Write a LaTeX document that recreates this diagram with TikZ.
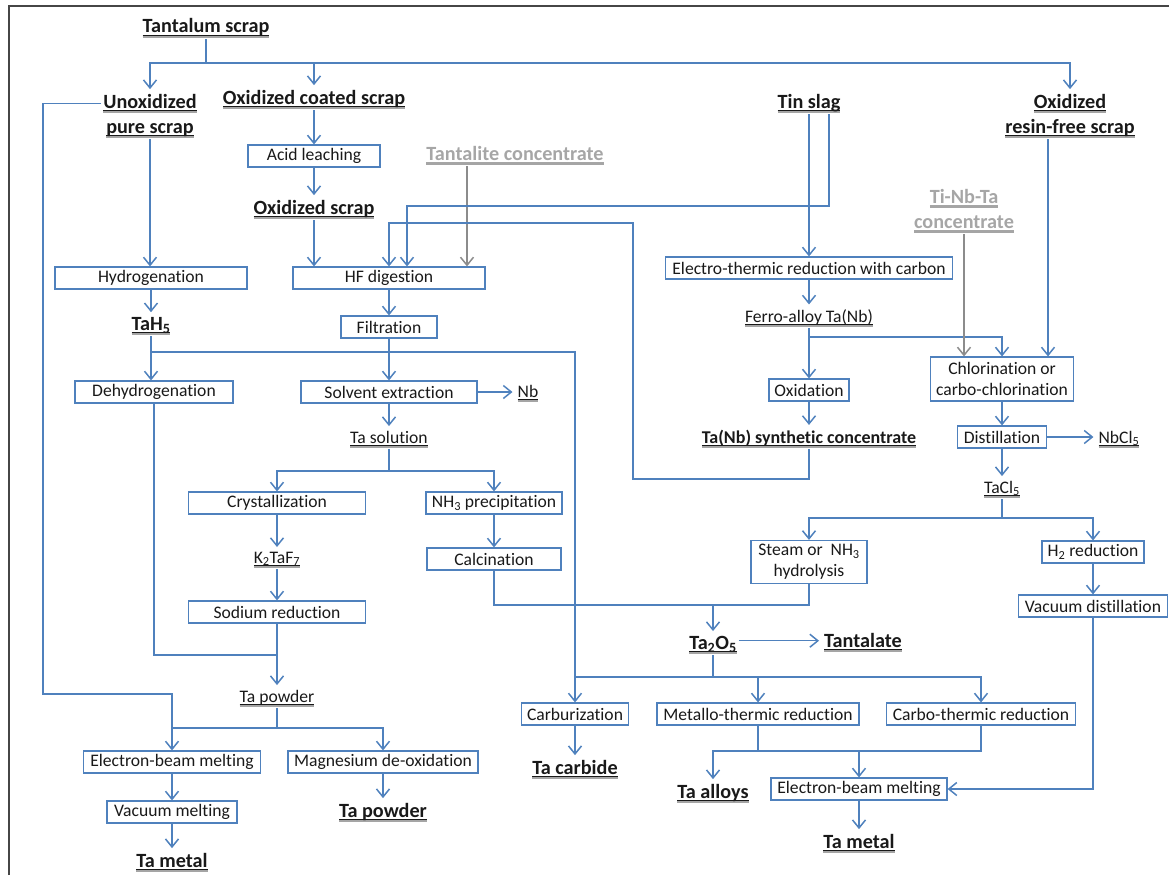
\documentclass[tikz,border=0pt]{standalone}
\usepackage{fontspec}
\setmainfont{Carlito}[Ligatures={NoCommon}]
\usetikzlibrary{arrows.meta}

\definecolor{flow}{RGB}{79,129,189}
\definecolor{ink}{RGB}{25,25,25}
\definecolor{feed}{RGB}{166,166,166}
\definecolor{feedline}{RGB}{140,140,140}
\definecolor{shade}{RGB}{165,165,165}
\definecolor{framec}{RGB}{70,70,70}

\newcommand{\regfont}{\fontsize{17.6}{21}\selectfont}
\newcommand{\boldfont}{\fontsize{20.2}{24}\selectfont\bfseries}
\newcommand{\midbold}{\fontsize{18}{22}\selectfont\bfseries}
% underline with a soft grey shadow beneath it
\newcommand{\ulab}[1]{\setbox0=\hbox{#1}\leavevmode\rlap{\rule[-3.4pt]{\wd0}{1.3pt}}\rlap{\textcolor{shade}{\rule[-4.7pt]{\wd0}{1.3pt}}}\box0}

\tikzset{
  ln/.style={draw=flow, line width=1.5pt},
  ar/.style={ln, -{Straight Barb[length=8pt,width=13pt]}},
  gar/.style={ar, draw=feedline},
  tolbl/.style={shorten >=3pt},
  box/.style={draw=flow, line width=1.2pt, fill=white, text=ink, font=\regfont,
              inner sep=0pt, minimum height=22pt, align=center},
  lbl/.style={text=ink, font=\regfont, inner xsep=2pt, inner ysep=1.5pt, anchor=base},
  ttl/.style={lbl, font=\boldfont},
  feedttl/.style={ttl, text=feed}
}

\begin{document}
\begin{tikzpicture}[x=1pt, y=-1pt]
\useasboundingbox (0,0) rectangle (1169,875);
\draw[framec, line width=2pt] (9,875) -- (9,6) -- (1169,6);

% ---------- sources ----------
\node[ttl] (ts) at (206,33) {\ulab{Tantalum scrap}};
\node[ttl] (ups1) at (150,108) {\ulab{Unoxidized}};
\node[ttl] (ups2) at (150,133) {\ulab{pure scrap}};
\node[ttl] (ocs) at (314,104) {\ulab{Oxidized coated scrap}};
\node[box, minimum width=132pt] (acid) at (314,156) {Acid leaching};
\node[ttl] (os) at (314,214) {\ulab{Oxidized scrap}};
\node[feedttl] (tc) at (515,160) {\ulab{Tantalite concentrate}};
\node[ttl] (tin) at (809,108) {\ulab{Tin slag}};
\node[ttl] (ors1) at (1070,108) {\ulab{Oxidized}};
\node[ttl] (ors2) at (1070,133) {\ulab{resin-free scrap}};
\node[feedttl] (tnt1) at (964,203) {\ulab{Ti-Nb-Ta}};
\node[feedttl] (tnt2) at (964,228) {\ulab{concentrate}};

% ---------- process steps ----------
\node[box, minimum width=192pt] (hyd) at (151,278) {Hydrogenation};
\node[box, minimum width=192pt] (hf) at (389,278) {HF digestion};
\node[box, minimum width=287pt] (etr) at (809,268) {Electro-thermic reduction with carbon};
\node[ttl] (tah) at (151,330) {\ulab{TaH\textsubscript{5}}};
\node[box, minimum width=96pt] (filt) at (389,327) {Filtration};
\node[lbl] (fa) at (809,322) {\ulab{Ferro-alloy Ta(Nb)}};
\node[box, minimum width=158pt] (dehyd) at (154,392) {Dehydrogenation};
\node[box, minimum width=176pt] (se) at (389,392) {Solvent extraction};
\node[lbl] (nb) at (528,397) {\ulab{Nb}};
\node[box, minimum width=80pt] (ox) at (809,390) {Oxidation};
\node[box, minimum width=143pt, minimum height=44pt] (chl) at (1002,379) {Chlorination or\\carbo-chlorination};
\node[ttl, font=\midbold] (tns) at (809,443) {\ulab{Ta(Nb) synthetic concentrate}};
\node[box, minimum width=89pt] (dist) at (1002,437) {Distillation};
\node[lbl] (nbcl) at (1119,443) {\ulab{NbCl\textsubscript{5}}};
\node[lbl] (tas) at (389,443) {\ulab{Ta solution}};
\node[lbl] (tacl) at (1002,493) {\ulab{TaCl\textsubscript{5}}};
\node[box, minimum width=177pt] (cry) at (277,503) {Crystallization};
\node[box, minimum width=136pt] (nhp) at (494,503) {NH\textsubscript{3} precipitation};
\node[box, minimum width=116pt, minimum height=43pt] (steam) at (809,562) {Steam or\ \ NH\textsubscript{3}\\hydrolysis};
\node[box, minimum width=102pt] (h2r) at (1093,552) {H\textsubscript{2} reduction};
\node[lbl] (k2) at (277,563) {\ulab{K\textsubscript{2}TaF\textsubscript{7}}};
\node[box, minimum width=134pt] (calc) at (494,559) {Calcination};
\node[box, minimum width=177pt] (sod) at (277,612) {Sodium reduction};
\node[box, minimum width=149pt] (vd) at (1093,606) {Vacuum distillation};
\node[ttl] (tao) at (713,649) {\ulab{Ta\textsubscript{2}O\textsubscript{5}}};
\node[ttl] (tant) at (863,647) {\ulab{Tantalate}};
\node[lbl] (tap) at (277,702) {\ulab{Ta powder}};
\node[box, minimum width=107pt] (carb) at (575,714) {Carburization};
\node[box, minimum width=202pt] (mtr) at (758,714) {Metallo-thermic reduction};
\node[box, minimum width=189pt] (ctr) at (981,714) {Carbo-thermic reduction};
\node[box, minimum width=177pt] (ebm1) at (172,762) {Electron-beam melting};
\node[box, minimum width=190pt] (mag) at (383,762) {Magnesium de-oxidation};
\node[ttl] (tcarb) at (575,774) {\ulab{Ta carbide}};
\node[ttl] (talloy) at (713,798) {\ulab{Ta alloys}};
\node[box, minimum width=176pt] (ebm2) at (859,789) {Electron-beam melting};
\node[box, minimum width=130pt] (vm) at (172,812) {Vacuum melting};
\node[ttl] (tapb) at (383,817) {\ulab{Ta powder}};
\node[ttl] (tm1) at (172,867) {\ulab{Ta metal}};
\node[ttl] (tm2) at (859,848) {\ulab{Ta metal}};

% ---------- junction points ----------
\coordinate (j1) at (206,63);
\coordinate (lft) at (43,694);
\coordinate (tinr) at (829,206);
\coordinate (back1) at (809,479);
\coordinate (back2) at (633,223);
\coordinate (j2) at (575,352);
\coordinate (j3) at (389,471);
\coordinate (j4) at (277,655);
\coordinate (j5) at (277,728);
\coordinate (j6) at (713,605);
\coordinate (j7) at (713,677);
\coordinate (j8) at (859,751);
\coordinate (j9) at (1002,518);
\coordinate (j10) at (809,337);

% ---------- scrap split ----------
\draw[ln] (ts.south) -- (j1);
\draw[ar,tolbl] (j1) -| (ups1.north);
\draw[ar,tolbl] (j1) -| (ocs.north);
\draw[ar,tolbl] (j1) -| (ors1.north);
\draw[ar] (ups1.west) -| (lft) -| (ebm1.north);
\draw[ar] (ups2.south) -- (ups2.south |- hyd.north);

% ---------- HF route ----------
\draw[ar] (ocs.south) -- (acid.north);
\draw[ar,tolbl] (acid.south) -- (os.north);
\draw[ar] (os.south) -- (os.south |- hf.north);
\draw[gar] ([xshift=-48pt]tc.south) -- ([xshift=-48pt]tc.south |- hf.north);
\draw[ar] (tin.south -| tinr) -- (tinr) -| ([xshift=18pt]hf.north);
\draw[ar] (tns.south) -- (back1) -| (back2) -| (hf.north);
\draw[ar] (hf.south) -- (filt.north);

% ---------- hydride route ----------
\draw[ar,tolbl] (hyd.south) -- (hyd.south |- tah.north);
\draw[ar] (tah.south) -- (tah.south |- dehyd.north);
\draw[ar] (tah.south |- j2) -- (j2) -- (carb.north);
\draw[ln] (dehyd.south) |- (j4);

% ---------- solvent extraction ----------
\draw[ar] (filt.south) -- (se.north);
\draw[ar,tolbl] (se.east) -- (se.east -| nb.west);
\draw[ar,tolbl] (se.south) -- (tas.north);
\draw[ln] (tas.south) -- (j3);
\draw[ar] (j3) -| (cry.north);
\draw[ar] (j3) -| (nhp.north);
\draw[ar,tolbl] (cry.south) -- (k2.north);
\draw[ar] (k2.south) -- (sod.north);
\draw[ar] (nhp.south) -- (calc.north);
\draw[ar,tolbl] (sod.south) -- (tap.north);
\draw[ln] (tap.south) -- (j5) -- (j5 -| ebm1.north);
\draw[ar] (j5) -| (mag.north);
\draw[ar] (ebm1.south) -- (vm.north);
\draw[ar,tolbl] (vm.south) -- (tm1.north);
\draw[ar,tolbl] (mag.south) -- (tapb.north);

% ---------- oxide route ----------
\draw[ln] (calc.south) |- (j6);
\draw[ln] (steam.south) |- (j6);
\draw[ar,tolbl] (j6) -- (j6 |- tao.north);
\draw[ar,tolbl] ([yshift=4pt]tao.east) -- ([yshift=4pt]tao.east -| tant.west);
\draw[ln] (tao.south) -- (j7) -- (j7 -| carb.north);
\draw[ar] (j7) -| (mtr.north);
\draw[ar] (j7) -| (ctr.north);
\draw[ar,tolbl] (carb.south) -- (tcarb.north);
\draw[ln] (mtr.south) -- (mtr.south |- j8);
\draw[ln] (ctr.south) |- (j8);
\draw[ar,tolbl] (j8) -| (talloy.north);
\draw[ar] (j8) -- (ebm2.north);
\draw[ar,tolbl] (ebm2.south) -- (tm2.north);
\draw[ar] (vd.south) |- (ebm2.east);

% ---------- tin slag / chloride route ----------
\draw[ar] (tin.south) -- (tin.south |- etr.north);
\draw[ar,tolbl] (etr.south) -- (fa.north);
\draw[ar] (fa.south) -- (fa.south |- ox.north);
\draw[ar] (j10) -| (chl.north);
\draw[ar,tolbl] (ox.south) -- (tns.north);
\draw[gar] (tnt2.south) -- (tnt2.south |- chl.north);
\draw[ar] ([xshift=-22pt]ors2.south) -- ([xshift=-22pt]ors2.south |- chl.north);
\draw[ar] (chl.south) -- (dist.north);
\draw[ar,tolbl] (dist.east) -- (dist.east -| nbcl.west);
\draw[ar,tolbl] (dist.south) -- (tacl.north);
\draw[ln] (tacl.south) -- (j9);
\draw[ar] (j9) -| (steam.north);
\draw[ar] (j9) -| (h2r.north);
\draw[ar] (h2r.south) -- (vd.north);
\end{tikzpicture}
\end{document}
